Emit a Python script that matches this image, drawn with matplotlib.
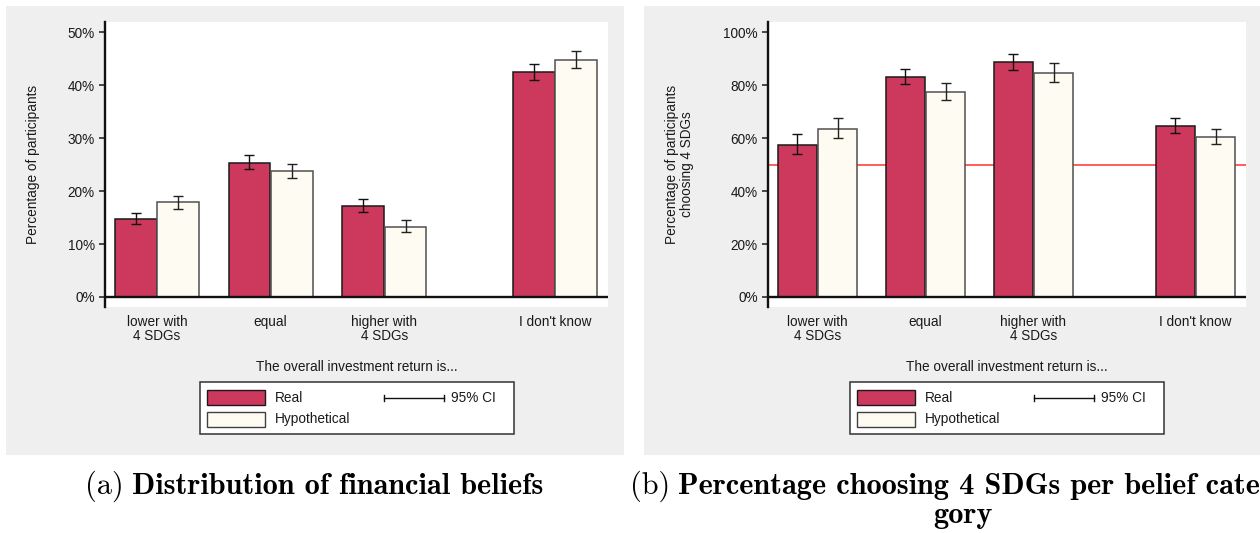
import matplotlib
matplotlib.use("Agg")
import matplotlib.pyplot as plt
import numpy as np
from matplotlib.patches import Rectangle
from matplotlib.lines import Line2D
from matplotlib.transforms import Affine2D

plt.rcParams['font.family'] = ['Liberation Sans', 'DejaVu Sans']

W, H = 1260, 533

# ---------------- data ----------------
categories = ["lower with\n4 SDGs", "equal", "higher with\n4 SDGs", "I don't know"]
cat_pos = [0, 1, 2, 3.5]

dist_real = [14.7, 25.4, 17.2, 42.5]
dist_real_lo = [13.7, 24.1, 16.1, 41.0]
dist_real_hi = [15.9, 26.8, 18.6, 44.1]
dist_hyp = [17.9, 23.8, 13.3, 44.8]
dist_hyp_lo = [16.6, 22.5, 12.3, 43.2]
dist_hyp_hi = [19.1, 25.2, 14.5, 46.5]

choose_real = [57.5, 83.2, 88.7, 64.6]
choose_real_lo = [53.9, 80.5, 85.6, 62.1]
choose_real_hi = [61.7, 86.3, 91.8, 67.6]
choose_hyp = [63.6, 77.6, 84.7, 60.6]
choose_hyp_lo = [59.9, 74.5, 81.3, 57.8]
choose_hyp_hi = [67.5, 81.0, 88.5, 63.6]

a_ticks = [0, 10, 20, 30, 40, 50]
b_ticks = [0, 20, 40, 60, 80, 100]
ref_level = 50

series_labels = ["Real", "Hypothetical", "95% CI"]
xtitle = "The overall investment return is..."
ylabel_a = "Percentage of participants"
ylabel_b = "Percentage of participants\nchoosing 4 SDGs"
cap_a = ("(a)", "Distribution of financial beliefs")
cap_b = ("(b)", "Percentage choosing 4 SDGs per belief cate-", "gory")

# ---------------- style ----------------
RED = "#CD385D"
CREAM = "#FEFBF2"
BG = "#EFEFEF"
INK = "#1a1a1a"
FS = 9.8

fig = plt.figure(figsize=(W / 100, H / 100), dpi=100)
fig.patch.set_facecolor("white")
px = Affine2D().scale(1 / W, -1 / H).translate(0, 1) + fig.transFigure


def fig_axes(x0, y0, x1, y1):
    return fig.add_axes([x0 / W, 1 - y1 / H, (x1 - x0) / W, (y1 - y0) / H])


# gray panel backgrounds
for gx0 in (6, 644):
    fig.add_artist(Rectangle((gx0, 6), 618, 449, transform=px,
                             facecolor=BG, edgecolor="none", zorder=-5))


def panel(ax, real, rlo, rhi, hyp, hlo, hhi, ticks, ylim, xlim, ref=None):
    x = np.array(cat_pos, dtype=float)
    real = np.array(real); hyp = np.array(hyp)
    bw = 0.367
    off = bw / 2 + 0.003
    ax.set_facecolor("white")
    ax.bar(x - off, real, bw, color=RED, edgecolor="#1a1a1a", lw=1.1, zorder=3)
    ax.bar(x + off, hyp, bw, color=CREAM, edgecolor="#505050", lw=1.1, zorder=3)
    ax.errorbar(x - off, real, yerr=[real - np.array(rlo), np.array(rhi) - real],
                fmt="none", ecolor="#111111", elinewidth=1.0, capsize=3.5,
                capthick=1.0, zorder=4)
    ax.errorbar(x + off, hyp, yerr=[hyp - np.array(hlo), np.array(hhi) - hyp],
                fmt="none", ecolor="#222222", elinewidth=1.0, capsize=3.5,
                capthick=1.0, zorder=4)
    ax.axhline(0, color="#111111", lw=1.7, zorder=5)
    if ref is not None:
        ax.axhline(ref, color="#FF3030", lw=1.1, zorder=1)
    ax.set_xlim(*xlim)
    ax.set_ylim(*ylim)
    for s in ("top", "right", "bottom"):
        ax.spines[s].set_visible(False)
    ax.spines["left"].set_linewidth(1.7)
    ax.spines["left"].set_color("#111111")
    ax.set_yticks(ticks)
    ax.set_yticklabels([f"{t}%" for t in ticks])
    ax.tick_params(axis="y", direction="out", length=4.6, width=1.1,
                   pad=2.6, labelsize=FS, colors=INK)
    ax.set_xticks(x)
    ax.set_xticklabels(categories)
    ax.tick_params(axis="x", length=0, pad=5.8, labelsize=FS, colors=INK)
    for lab in ax.get_xticklabels():
        lab.set_linespacing(1.0)


ax1 = fig_axes(105, 22, 608, 307)
panel(ax1, dist_real, dist_real_lo, dist_real_hi, dist_hyp, dist_hyp_lo, dist_hyp_hi,
      a_ticks, (-1.89, 51.95), (-0.457, 3.967))
ax2 = fig_axes(767.7, 22, 1245.7, 307)
panel(ax2, choose_real, choose_real_lo, choose_real_hi, choose_hyp, choose_hyp_lo,
      choose_hyp_hi, b_ticks, (-3.78, 103.9), (-0.461, 3.965), ref=ref_level)

# axis titles
fig.text(33, 164.5, ylabel_a, transform=px, rotation=90, ha="center",
         va="center", fontsize=FS, color=INK)
fig.text(679.5, 164.5, ylabel_b, transform=px, rotation=90, ha="center",
         va="center", fontsize=FS, color=INK, multialignment="center",
         linespacing=1.1)
fig.text(356.5, 367, xtitle, transform=px, ha="center", va="center",
         fontsize=FS, color=INK)
fig.text(1006.7, 367, xtitle, transform=px, ha="center", va="center",
         fontsize=FS, color=INK)


def legend(dx):
    fig.add_artist(Rectangle((200 + dx, 382), 314, 52, transform=px,
                             facecolor="white", edgecolor="#333333", lw=1.1,
                             zorder=6))
    fig.add_artist(Rectangle((207 + dx, 389.5), 58, 15, transform=px,
                             facecolor=RED, edgecolor="#1a1a1a", lw=1.0, zorder=7))
    fig.add_artist(Rectangle((207 + dx, 411.5), 58, 15, transform=px,
                             facecolor=CREAM, edgecolor="#404040", lw=1.0, zorder=7))
    fig.text(275 + dx, 397.5, series_labels[0], transform=px, va="center",
             ha="left", fontsize=FS, color=INK, zorder=8)
    fig.text(275 + dx, 419.5, series_labels[1], transform=px, va="center",
             ha="left", fontsize=FS, color=INK, zorder=8)
    fig.add_artist(Line2D([384 + dx, 444 + dx], [397.5, 397.5], transform=px,
                          color="#111111", lw=1.0, zorder=8))
    for cx in (384 + dx, 444 + dx):
        fig.add_artist(Line2D([cx, cx], [394.5, 400.5], transform=px,
                              color="#111111", lw=1.0, zorder=8))
    fig.text(451 + dx, 397.5, series_labels[2], transform=px, va="center",
             ha="left", fontsize=FS, color=INK, zorder=8)


legend(0)
legend(650)

# captions (Computer Modern, LaTeX-like)
fig.canvas.draw()
renderer = fig.canvas.get_renderer()
probe = fig.text(0, 0, cap_a[1], fontfamily="cmb10", fontsize=10)
wprobe = probe.get_window_extent(renderer).width
probe.remove()
cfs = 10 * 410 / wprobe

fig.text(124, 494, cap_a[0], transform=px, fontfamily="cmr10", fontsize=cfs,
         ha="right", va="baseline", color="black")
fig.text(132, 494, cap_a[1], transform=px, fontfamily="cmb10", fontsize=cfs,
         ha="left", va="baseline", color="black")
fig.text(670, 494, cap_b[0], transform=px, fontfamily="cmr10", fontsize=cfs,
         ha="right", va="baseline", color="black")
fig.text(678, 494, cap_b[1], transform=px, fontfamily="cmb10", fontsize=cfs,
         ha="left", va="baseline", color="black")
fig.text(963, 523, cap_b[2], transform=px, fontfamily="cmb10", fontsize=cfs,
         ha="center", va="baseline", color="black")

fig.savefig("out.png", dpi=100, facecolor="white")
